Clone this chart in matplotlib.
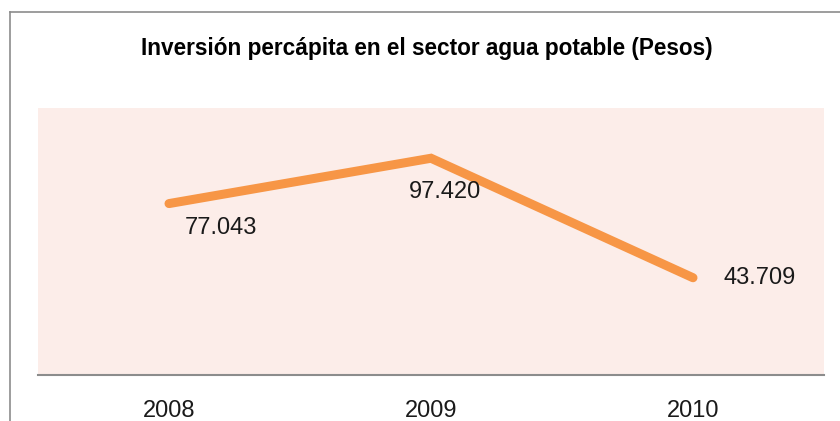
import matplotlib
matplotlib.use("Agg")
import matplotlib.pyplot as plt
from matplotlib.lines import Line2D

anios = ["2008", "2009", "2010"]
inversion = [77.043, 97.420, 43.709]
etiquetas = ["77.043", "97.420", "43.709"]

W, H = 840, 421
fig = plt.figure(figsize=(W / 100, H / 100), dpi=100)

# marco gris (solo izquierda y arriba visibles)
fx0, fy0 = 9.5 / W, 1 - 11.5 / H
fig.add_artist(Line2D([fx0, fx0], [0, fy0], transform=fig.transFigure, color="#8c8c8c", lw=1.2))
fig.add_artist(Line2D([fx0, 1], [fy0, fy0], transform=fig.transFigure, color="#8c8c8c", lw=1.2))

ax = fig.add_axes([38 / W, 1 - 375 / H, (824 - 38) / W, (375 - 108) / H])
ax.set_facecolor("#fcede9")

x = range(len(anios))
ax.plot(x, inversion, color="#f79646", lw=6.5, solid_capstyle="round", solid_joinstyle="miter")

ax.set_xlim(-0.5, 2.5)
ax.set_ylim(0, 120)
ax.set_xticks(list(x))
ax.set_xticklabels(anios, fontsize=17, family=["Liberation Sans", "DejaVu Sans"], color="#1a1a1a")
ax.tick_params(axis="x", length=0, pad=18)
ax.set_yticks([])

for s in ["top", "left", "right"]:
    ax.spines[s].set_visible(False)
ax.spines["bottom"].set_color("#8c8c8c")
ax.spines["bottom"].set_linewidth(1.5)

# etiquetas de datos
desplaz = [(16, -24, "left"), (14, -34, "center"), (31, 0, "left")]
for i, (v, t) in enumerate(zip(inversion, etiquetas)):
    dx, dy, ha = desplaz[i]
    ax.annotate(t, (i, v), xytext=(dx, dy), textcoords="offset pixels",
                ha=ha, va="center", fontsize=17, color="#1a1a1a",
                family=["Liberation Sans", "DejaVu Sans"])

fig.text(427 / W, 1 - 48 / H, "Inversión percápita en el sector agua potable (Pesos)",
         ha="center", va="center", fontsize=16.3, fontweight="bold",
         family=["Liberation Sans", "DejaVu Sans"])

fig.savefig("out.png", dpi=100)
